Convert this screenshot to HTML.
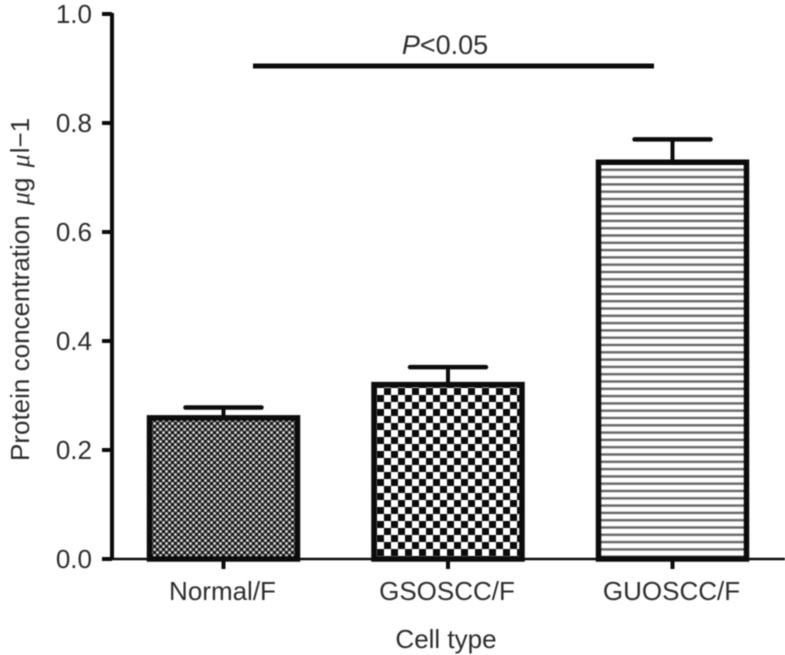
<!DOCTYPE html>
<html>
<head>
<meta charset="utf-8">
<style>
html,body{margin:0;padding:0;background:#fff;width:785px;height:655px;overflow:hidden}
svg{display:block;filter:blur(0.45px)}
text{font-family:"Liberation Sans",sans-serif;fill:#2e2e2e;font-size:26px}
</style>
</head>
<body>
<svg id="chart" width="785" height="655" viewBox="0 0 785 655" xmlns="http://www.w3.org/2000/svg">
<defs>
<pattern id="fine" patternUnits="userSpaceOnUse" width="6" height="6" x="150" y="422">
<rect width="6" height="6" fill="#5a5a5a"/>
<rect x="0.3" y="0.3" width="2.4" height="2.4" fill="#0c0c0c"/>
<rect x="3.3" y="3.3" width="2.4" height="2.4" fill="#0c0c0c"/>
<rect x="3.5" y="0.5" width="2" height="2" fill="#eee"/>
<rect x="0.5" y="3.5" width="2" height="2" fill="#eee"/>
</pattern>
<pattern id="check" patternUnits="userSpaceOnUse" width="14" height="14" x="377" y="388">
<rect width="14" height="14" fill="#fff"/>
<rect x="7" y="0" width="7" height="7" fill="#0c0c0c"/>
<rect x="0" y="7" width="7" height="7" fill="#0c0c0c"/>
</pattern>
<pattern id="lines" patternUnits="userSpaceOnUse" width="10" height="7.3" x="600" y="165">
<rect width="10" height="7.3" fill="#fff"/>
<rect y="3.6" width="10" height="2.4" fill="#666"/>
</pattern>
</defs>
<g id="marks"></g>
<text x="445" y="54" text-anchor="middle" style="font-size:27px"><tspan font-style="italic">P</tspan>&lt;0.05</text>
<text x="446" y="648" text-anchor="middle">Cell type</text>
<text transform="translate(29,461) rotate(-90)">Protein concentration <tspan dx="3" font-style="italic" font-family="Liberation Serif">μ</tspan>g <tspan dx="3" font-style="italic" font-family="Liberation Serif">μ</tspan><tspan dx="1">l−1</tspan></text>
</svg>
<script>
const categories = ["Normal/F", "GSOSCC/F", "GUOSCC/F"];
const means = [0.259, 0.32, 0.728];
const errors = [0.019, 0.032, 0.042];
const yTicks = ["0.0", "0.2", "0.4", "0.6", "0.8", "1.0"];
const fills = ["url(#fine)", "url(#check)", "url(#lines)"];

const NS = "http://www.w3.org/2000/svg";
const root = document.getElementById("marks");
const y = v => 559 - v * 545;
const xCenter = i => 223.5 + i * 224.5;
const barWidth = 148;
const capWidth = 76;

function add(tag, attrs, parent, content) {
  const el = document.createElementNS(NS, tag);
  for (const k in attrs) el.setAttribute(k, attrs[k]);
  if (content !== undefined) el.textContent = content;
  (parent || root).appendChild(el);
  return el;
}
function segment(x1, y1, x2, y2, w, parent) {
  return add("line", {x1, y1, x2, y2, stroke: "#0c0c0c", "stroke-width": w, "stroke-linecap": "butt"}, parent);
}

categories.forEach((c, i) => {
  const group = add("g", {});
  
  
  const cx = xCenter(i);
  const top = y(means[i]);
  const errTop = y(means[i] + errors[i]);
  const err = segment(cx, top, cx, errTop, 4, group);
  
  
  const cap = add("line", {x1: cx - capWidth / 2, y1: errTop, x2: cx + capWidth / 2, y2: errTop, stroke: "#0c0c0c", "stroke-width": 4.5, "stroke-linecap": "round"}, group);
  
  
  const bar = add("rect", {x: cx - barWidth / 2, y: top, width: barWidth, height: y(0) - top, fill: fills[i], stroke: "#0c0c0c", "stroke-width": 5.5}, group);
  
  
  const tick = segment(cx, 559, cx, 569, 4, group);
  
  
  const label = add("text", {x: cx - 1, y: 600, "text-anchor": "middle"}, group, c);
  
  
});

const xAxis = segment(110, 559, 785, 559, 2.5);


const yAxis = segment(112, 13, 112, 560, 4);



yTicks.forEach(t => {
  const v = parseFloat(t);
  const tick = segment(102, y(v), 112, y(v), 4);
  
  
  const label = add("text", {x: 92, y: y(v) + 9, "text-anchor": "end"}, root, t);
  
  
});

const sigLine = segment(253, 66, 654, 66, 5);


</script>
</body>
</html>
